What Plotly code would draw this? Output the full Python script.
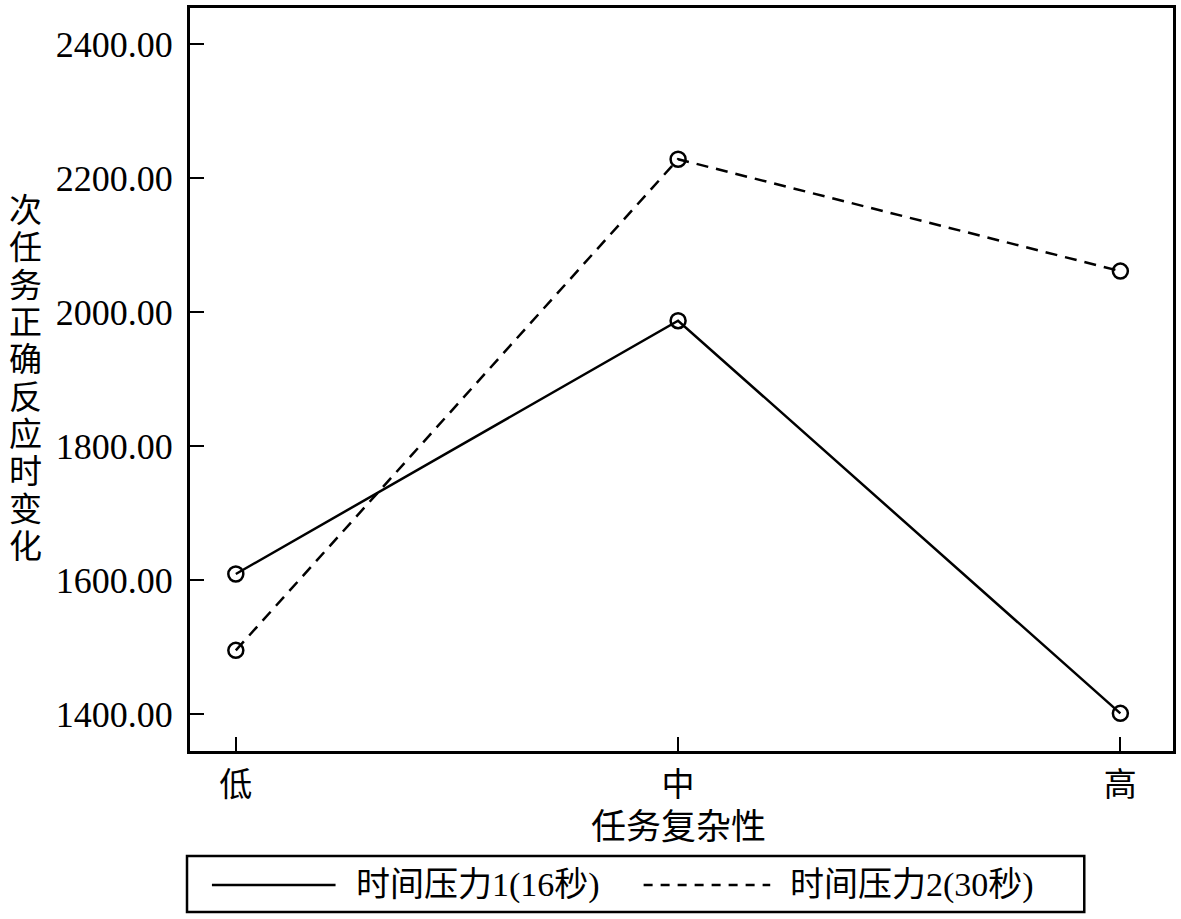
import plotly.graph_objects as go

categories = ["低", "中", "高"]
series_names = ["时间压力1(16秒)", "时间压力2(30秒)"]
values_16s = [1609, 1987, 1401]
values_30s = [1495, 2228, 2061]
y_ticks = [1400, 1600, 1800, 2000, 2200, 2400]
y_title = "次任务正确反应时变化"
x_title = "任务复杂性"

W, H = 1181, 919
L, R, T, B = 190, 1176, 8, 751  # plot area in px


def px(x):
    return (x - L) / (R - L)


def py(y):
    return (B - y) / (B - T)


FONT = "Liberation Serif, Noto Sans CJK SC, serif"
dashes = ["solid", "12px,8px"]

fig = go.Figure()
for name, vals, dash in zip(series_names, [values_16s, values_30s], dashes):
    fig.add_trace(go.Scatter(
        x=categories, y=vals, mode="lines", name=name,
        line=dict(color="black", width=2.5, dash=dash), showlegend=False))
    fig.add_trace(go.Scatter(
        x=categories, y=vals, mode="markers", name=name,
        marker=dict(symbol="circle-open", size=15, color="black",
                    line=dict(width=2.5, color="black")),
        showlegend=False))

fig.update_xaxes(
    type="category", range=[-0.1036, 2.119],
    showline=True, linecolor="black", linewidth=3, mirror=True,
    ticks="inside", ticklen=14, tickwidth=2, tickcolor="black",
    tickfont=dict(family=FONT, size=33, color="black"),
    ticklabelstandoff=2, showgrid=False, zeroline=False)
fig.update_yaxes(
    range=[1344.8, 2453.7], tickvals=y_ticks, tickformat=".2f",
    showline=True, linecolor="black", linewidth=3, mirror=True,
    ticks="inside", ticklen=14, tickwidth=2, tickcolor="black",
    tickfont=dict(family=FONT, size=36, color="black"),
    ticklabelstandoff=7, showgrid=False, zeroline=False)

annotations = []
# vertical y-axis title, one character per line
for i, ch in enumerate(y_title):
    annotations.append(dict(
        text=ch, xref="paper", yref="paper", x=px(25), y=py(211 + 37.33 * i),
        xanchor="center", yanchor="middle", showarrow=False,
        font=dict(family=FONT, size=33, color="black")))
# x-axis title
annotations.append(dict(
    text=x_title, xref="paper", yref="paper", x=px(680), y=py(827),
    xanchor="center", yanchor="middle", showarrow=False,
    font=dict(family=FONT, size=35, color="black")))
# legend texts
for name, xpos in zip(series_names, [355, 790]):
    annotations.append(dict(
        text=name, xref="paper", yref="paper", x=px(xpos), y=py(885),
        xanchor="left", yanchor="middle", showarrow=False,
        font=dict(family=FONT, size=34, color="black")))

shapes = [
    dict(type="rect", xref="paper", yref="paper",
         x0=px(187), x1=px(1087), y0=py(856), y1=py(912),
         line=dict(color="black", width=2.5)),
    dict(type="line", xref="paper", yref="paper",
         x0=px(212), x1=px(336), y0=py(885), y1=py(885),
         line=dict(color="black", width=2.5, dash=dashes[0])),
    dict(type="line", xref="paper", yref="paper",
         x0=px(645), x1=px(772), y0=py(885), y1=py(885),
         line=dict(color="black", width=2.5, dash="9px,8px")),
]

fig.update_layout(
    width=W, height=H,
    margin=dict(l=L, r=W - R, t=T, b=H - B, pad=0),
    paper_bgcolor="white", plot_bgcolor="white",
    showlegend=False,
    annotations=annotations, shapes=shapes,
    font=dict(family=FONT, color="black"))

fig.write_html("out.html")
